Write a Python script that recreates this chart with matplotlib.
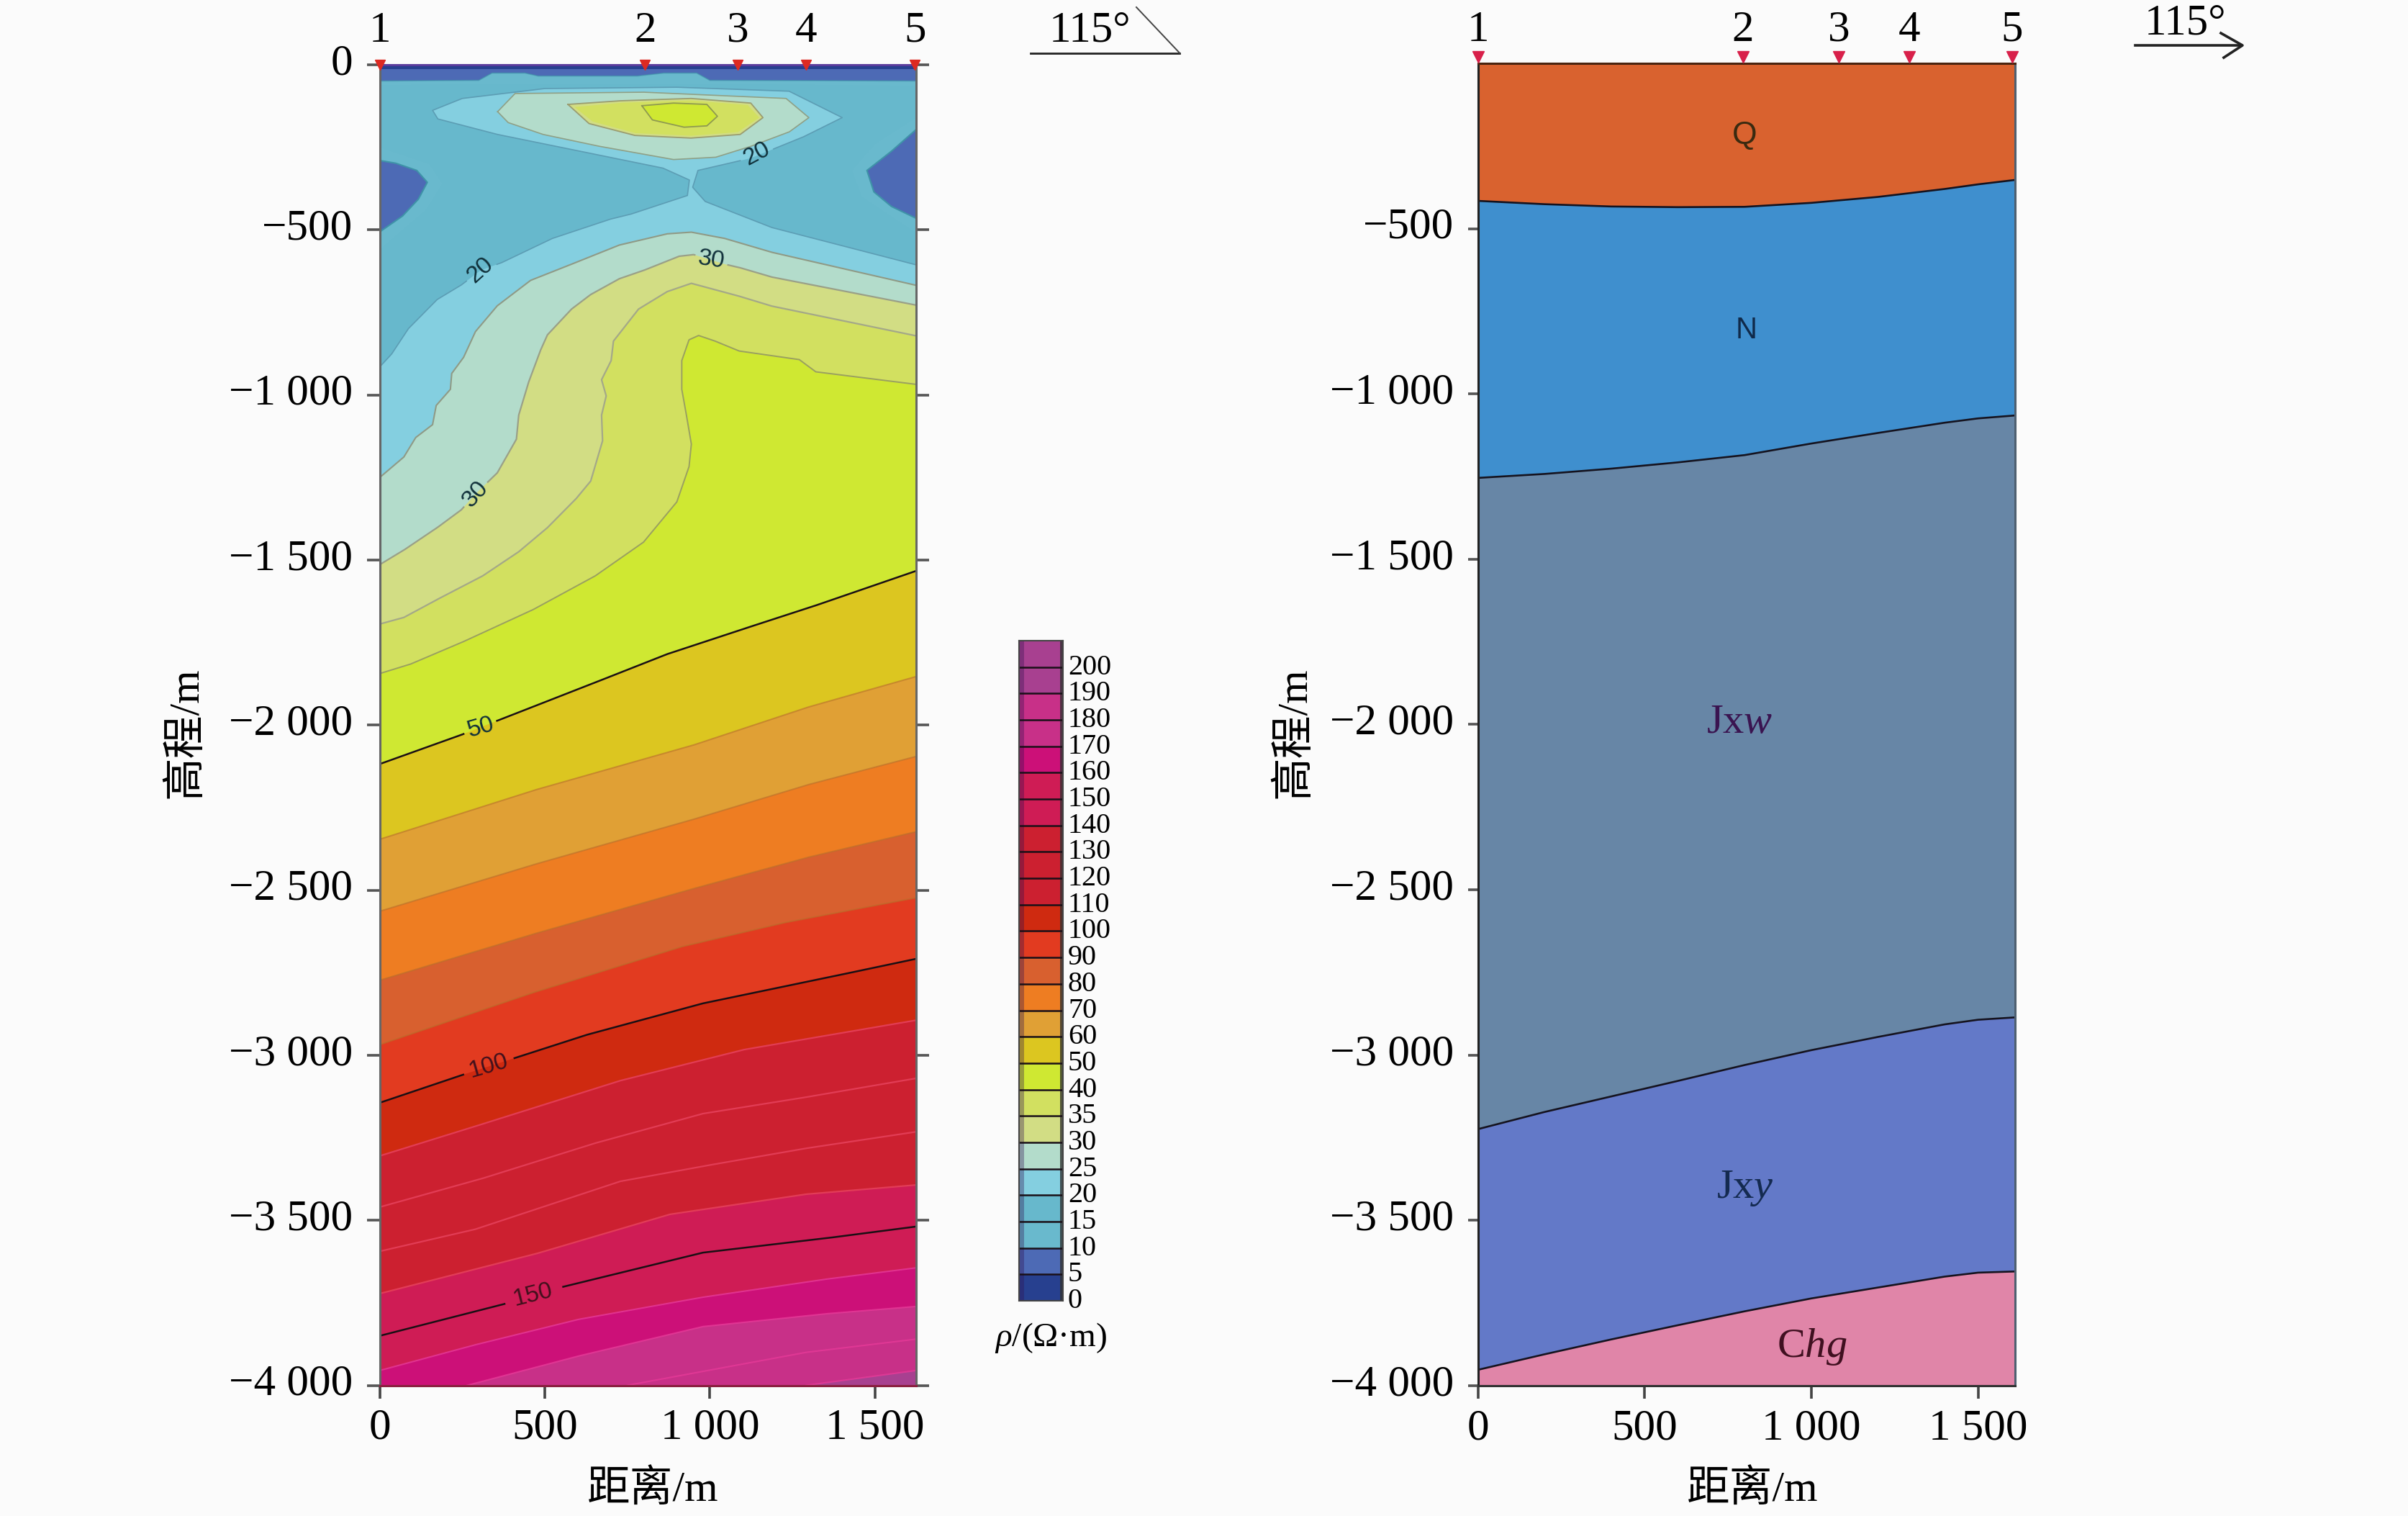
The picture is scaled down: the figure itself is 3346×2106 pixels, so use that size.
import matplotlib
matplotlib.use("Agg")
import matplotlib.pyplot as plt
import numpy as np
from matplotlib.lines import Line2D
from matplotlib.transforms import ScaledTranslation

W, H = 3346, 2106
plt.rcParams['font.family'] = ['Liberation Serif', 'Noto Sans CJK SC', 'DejaVu Sans']
plt.rcParams['mathtext.fontset'] = 'custom'
plt.rcParams['mathtext.rm'] = 'Liberation Serif'
plt.rcParams['mathtext.it'] = 'Liberation Serif:italic'
plt.rcParams['axes.unicode_minus'] = False

# ---------- data ----------
x_ticks = [0, 500, 1000, 1500]
x_tick_labels = ['0', '500', '1 000', '1 500']
y_ticks = [0, -500, -1000, -1500, -2000, -2500, -3000, -3500, -4000]
y_tick_labels = ['0', '−500', '−1 000', '−1 500', '−2 000', '−2 500', '−3 000', '−3 500', '−4 000']
stations = ['1', '2', '3', '4', '5']
station_x_left = [0, 804, 1084, 1291, 1621]
station_x_right = [0, 795, 1082, 1293, 1602]

scale_levels = [0, 5, 10, 15, 20, 25, 30, 35, 40, 50, 60, 70, 80, 90, 100, 110, 120,
                130, 140, 150, 160, 170, 180, 190, 200]
scale_colors = ['#27408f', '#4d6ab5', '#69b9cd', '#67b8cc', '#84cfe0', '#b3dccb', '#d2dd84',
                '#d2e060', '#cfe832', '#dcc620', '#e0a035', '#ee7d22', '#d8602f', '#e23b20',
                '#cf2a10', '#cc2030', '#cc2030', '#cc2030', '#cf1c55', '#cf1c55', '#cc1078',
                '#c83088', '#c83088', '#a84090', '#a84090']

# isolines of resistivity: (distance, elevation)
iso5 = ([0, 1625], [-13, -13])
iso10 = ([0, 300, 340, 440, 480, 780, 860, 960, 1000, 1625],
         [-49, -47, -25, -25, -34, -34, -25, -25, -47, -49])
iso10_pocket_l = ([0, 48, 112, 144, 117, 69, 0], [-290, -298, -320, -356, -407, -458, -506])
iso10_pocket_r = ([1625, 1550, 1476, 1497, 1550, 1625], [-196, -262, -320, -385, -429, -465])
iso15 = ([0, 400, 1000, 1625], [-62, -58, -58, -64])
iso15_pocket_l = ([0, 150, 190, 140, 0], [-250, -300, -360, -440, -560])
iso15_pocket_r = ([1625, 1500, 1430, 1460, 1625], [-160, -240, -320, -400, -510])
iso20 = ([0, 36, 87, 174, 247, 305, 370, 523, 697, 762, 932, 938, 858, 623, 357, 176, 160, 250,
          500, 900, 1240, 1401, 1284, 1124, 964, 948, 986, 1188, 1625],
         [-915, -876, -799, -711, -667, -623, -599, -526, -468, -452, -396, -349, -313, -265, -211,
          -164, -138, -102, -72, -68, -80, -160, -218, -283, -320, -371, -414, -493, -606])
iso25 = ([0, 73, 109, 160, 171, 214, 218, 254, 290, 356, 457, 581, 726, 871, 944, 1045, 1188, 1625],
         [-1250, -1188, -1129, -1090, -1032, -983, -935, -886, -808, -730, -653, -604, -546, -512,
          -507, -526, -568, -668])
iso25_lens = ([357, 389, 495, 666, 890, 1018, 1124, 1241, 1300, 1231, 800, 410],
              [-142, -175, -211, -247, -287, -280, -247, -203, -160, -102, -83, -87])
iso30 = ([0, 73, 174, 247, 290, 356, 414, 421, 450, 486, 508, 581, 639, 726, 799, 907, 951, 1045,
          1089, 1188, 1625],
         [-1514, -1470, -1402, -1348, -1300, -1236, -1134, -1061, -964, -867, -818, -740, -696, -648,
          -623, -580, -575, -604, -614, -643, -728])
iso30_lens = ([570, 634, 773, 943, 1092, 1161, 1124, 943, 730],
              [-120, -178, -214, -222, -211, -160, -116, -102, -109])
iso35 = ([0, 73, 181, 312, 421, 508, 595, 639, 675, 672, 686, 672, 701, 708, 784, 871, 944, 1089,
          1188, 1625],
         [-1694, -1674, -1616, -1548, -1475, -1402, -1314, -1261, -1139, -1061, -1003, -954, -896,
          -837, -740, -687, -662, -701, -731, -821])
iso35_lens = ([590, 645, 775, 943, 1085, 1150, 1115, 943, 735],
              [-128, -172, -207, -215, -204, -160, -122, -108, -115])
iso40 = ([0, 94, 254, 465, 653, 799, 900, 937, 944, 929, 915, 915, 937, 966, 1016, 1089, 1271, 1321, 1625],
         [-1844, -1815, -1747, -1650, -1548, -1446, -1324, -1217, -1149, -1061, -983, -896, -833,
          -820, -837, -867, -893, -930, -968])
iso40_lens = ([794, 826, 922, 991, 1023, 991, 890], [-124, -167, -189, -185, -156, -120, -116])
iso50 = ([0, 246, 363, 617, 871, 1089, 1314, 1625], [-2118, -2030, -1984, -1885, -1785, -1713, -1640, -1533])
iso60 = ([0, 476, 952, 1300, 1625], [-2346, -2195, -2060, -1945, -1853])
iso70 = ([0, 476, 952, 1300, 1625], [-2564, -2420, -2285, -2180, -2095])
iso80 = ([0, 476, 952, 1300, 1625], [-2773, -2630, -2495, -2400, -2323])
iso90 = ([0, 466, 916, 1229, 1625], [-2968, -2810, -2671, -2598, -2523])
iso100 = ([0, 240, 628, 979, 1355, 1625], [-3144, -3063, -2938, -2843, -2765, -2708])
iso110 = ([0, 303, 729, 1104, 1625], [-3305, -3211, -3077, -2983, -2894])
iso120 = ([0, 315, 654, 979, 1292, 1625], [-3460, -3372, -3266, -3177, -3127, -3070])
iso130 = ([0, 290, 729, 1004, 1292, 1625], [-3594, -3527, -3382, -3332, -3282, -3232])
iso140 = ([0, 478, 879, 1292, 1625], [-3722, -3600, -3482, -3421, -3393])
iso150 = ([0, 391, 541, 979, 1355, 1625], [-3850, -3750, -3705, -3598, -3554, -3519])
iso160 = ([0, 290, 603, 979, 1355, 1625], [-3955, -3877, -3800, -3733, -3678, -3644])
iso170 = ([265, 603, 979, 1355, 1625], [-4000, -3911, -3822, -3783, -3761])
iso180 = ([750, 1292, 1625], [-4000, -3900, -3860])
iso190 = ([1292, 1625], [-4000, -3955])

contour_labels = ['20', '20', '30', '30', '50', '100', '150']
contour_label_x = [1142, 305, 1005, 290, 306, 330, 464]
contour_label_d = [-270, -623, -592, -1300, -2007, -3034, -3726]
contour_label_angle = [28, 42, -8, 48, 16, 16, 14]

# geological boundaries on the right section
bound_x = [0, 200, 400, 600, 800, 1000, 1200, 1400, 1500, 1625]
bound_q_n = [-416, -426, -433, -435, -434, -422, -404, -380, -366, -351]
bound_n_jxw = [-1254, -1242, -1226, -1207, -1185, -1150, -1118, -1087, -1074, -1064]
bound_jxw_jxy = [-3224, -3172, -3125, -3078, -3030, -2985, -2945, -2907, -2893, -2885]
bound_jxy_chg = [-3952, -3905, -3860, -3817, -3775, -3736, -3703, -3670, -3658, -3654]
unit_names = ['Q', 'N', 'Jx$\\mathit{w}$', 'Jx$\\mathit{y}$', 'C$\\mathit{hg}$']
unit_colors = ['#d9622f', '#3f8fce', '#6786a6', '#6379c8', '#e085a8']
unit_x = [800, 805, 785, 802, 1003]
unit_d = [-218, -808, -1994, -3404, -3882]


# ---------- helpers for layout (pixels of the reference) ----------
def axes_px(x0, x1, y0, y1):
    return fig.add_axes([x0 / W, 1 - y1 / H, (x1 - x0) / W, (y1 - y0) / H])


def ftext(px, py, s, **kw):
    fig.text(px / W, 1 - py / H, s, ha='center', va='center', **kw)


fig = plt.figure(figsize=(W / 100, H / 100), dpi=100, facecolor='#fbfbfb')
LABEL = 44


def style_axes(ax, xmax, ylen, spine_cols):
    ax.set_xlim(0, xmax)
    ax.set_ylim(-4000, 0)
    ax.set_facecolor('none')
    ax.set_xticks(x_ticks, x_tick_labels)
    ax.tick_params(axis='x', length=13, width=2.6, color='#444444', labelsize=LABEL, pad=10)
    ax.tick_params(axis='y', length=ylen, width=2.6, color='#555555', labelsize=LABEL, pad=14)
    for side, col in spine_cols.items():
        ax.spines[side].set_color(col)
        ax.spines[side].set_linewidth(2.2)


def colour_of(level):
    return scale_colors[scale_levels.index(level)]


# ---------- left: resistivity section ----------
ax = axes_px(527.7, 1273, 90, 1924.5)
XMAX = 1625
ax.fill_between([0, XMAX], -4000, 0, color=colour_of(0), lw=0)


def paint_below(level, iso):
    xs, ds = iso
    ax.fill(list(xs) + [xs[-1], xs[0]], list(ds) + [-4000, -4000], color=colour_of(level), lw=0)


def paint_closed(level, iso):
    ax.fill(iso[0], iso[1], color=colour_of(level), lw=0)


def draw_line(iso, col, lw=1.6, alpha=1.0, closed=False, gaps=()):
    xs, ds = np.array(iso[0], float), np.array(iso[1], float)
    if closed:
        xs = np.append(xs, xs[0])
        ds = np.append(ds, ds[0])
    if gaps:
        # leave the line open under its inline labels
        t = np.arange(len(xs))
        tt = np.linspace(0, len(xs) - 1, (len(xs) - 1) * 30 + 1)
        xs, ds = np.interp(tt, t, xs), np.interp(tt, t, ds)
        for gx, gd, r in gaps:
            hit = np.hypot(xs - gx, ds - gd) < r
            xs, ds = np.where(hit, np.nan, xs), np.where(hit, np.nan, ds)
    ax.plot(xs, ds, color=col, lw=lw, alpha=alpha, solid_joinstyle='round')


def gap(i):
    r = 80 if len(contour_labels[i]) == 3 else 52
    return (contour_label_x[i], contour_label_d[i], r)


paint_below(5, iso5)
paint_below(10, iso10)
paint_below(15, iso15)
paint_closed(10, iso15_pocket_l)
paint_closed(10, iso15_pocket_r)
paint_closed(5, iso10_pocket_l)
paint_closed(5, iso10_pocket_r)
paint_below(20, iso20)
paint_below(25, iso25)
paint_closed(25, iso25_lens)
paint_below(30, iso30)
paint_closed(30, iso30_lens)
paint_below(35, iso35)
paint_closed(35, iso35_lens)
paint_below(40, iso40)
paint_closed(40, iso40_lens)
for lev, iso in [(50, iso50), (60, iso60), (70, iso70), (80, iso80), (90, iso90), (100, iso100),
                 (110, iso110), (120, iso120), (130, iso130), (140, iso140), (150, iso150),
                 (160, iso160), (170, iso170), (180, iso180), (190, iso190)]:
    paint_below(lev, iso)

draw_line(iso10_pocket_l, '#3f93a8', 1.5)
draw_line(iso10_pocket_r, '#3f93a8', 1.5)
draw_line(iso10, '#3f93a8', 1.2, 0.6)
draw_line(iso20, '#5c9db4', 1.2, gaps=(gap(0), gap(1)))
draw_line(iso25, '#8f9a86', 1.5)
draw_line(iso30, '#9aa088', 1.6, gaps=(gap(2), gap(3)))
draw_line(iso35, '#a4a888', 1.6)
draw_line(iso40, '#9aa060', 1.4)
draw_line(iso25_lens, '#8fa086', 1.2, closed=True)
draw_line(iso30_lens, '#9a9c70', 1.3, closed=True)
draw_line(iso40_lens, '#8f9a50', 1.3, closed=True)
for iso in (iso60, iso70, iso80, iso90):
    draw_line(iso, '#b8702c', 1.5, 0.6)
for iso in (iso110, iso120, iso130, iso140):
    draw_line(iso, '#e5405a', 1.6, 0.9)
for iso in (iso160, iso170, iso180, iso190):
    draw_line(iso, '#e63a98', 1.5, 0.8)
draw_line(iso50, '#1a0f14', 1.8, gaps=(gap(4),))
draw_line(iso100, '#1a0f14', 1.8, gaps=(gap(5),))
draw_line(iso150, '#1a0f14', 1.8, gaps=(gap(6),))

for s, x, d, a in zip(contour_labels, contour_label_x, contour_label_d, contour_label_angle):
    ax.text(x, d, s, rotation=a, ha='center', va='center', fontsize=24, family='Liberation Sans',
            color='#10303a' if float(s) < 60 else '#40101c', rotation_mode='anchor')

style_axes(ax, XMAX, 13, {'left': '#666666', 'right': '#666666', 'bottom': '#8a2040', 'top': '#5a3c9c'})
ax.set_yticks(y_ticks, y_tick_labels)
ax.tick_params(axis='y', right=True)
ax.plot(station_x_left, [0] * 5, 'v', color='#dd2a22', ms=10, clip_on=False, zorder=6)
for s, x in zip(stations, station_x_left):
    ax.annotate(s, (x, 0), xytext=(0, 34), textcoords='offset points', ha='center', va='center',
                fontsize=LABEL, annotation_clip=False)

# ---------- right: geological section ----------
bx = axes_px(2053.5, 2799.5, 88, 1925)
edges = [[0] * len(bound_x), bound_q_n, bound_n_jxw, bound_jxw_jxy, bound_jxy_chg, [-4000] * len(bound_x)]
for i, col in enumerate(unit_colors):
    bx.fill_between(bound_x, edges[i + 1], edges[i], color=col, lw=0)
for b in edges[1:5]:
    bx.plot(bound_x, b, color='#15131f', lw=1.9)
unit_fonts = [dict(family='Liberation Sans', fontsize=32, color='#3a2a10'),
              dict(family='Liberation Sans', fontsize=30, color='#102a4a'),
              dict(fontsize=42, color='#3a1450'),
              dict(fontsize=42, color='#142a50'),
              dict(fontsize=42, color='#401020')]
for s, x, d, kw in zip(unit_names, unit_x, unit_d, unit_fonts):
    bx.text(x, d, s, ha='center', va='center', **kw)
style_axes(bx, 1610, 10, {'left': '#222222', 'right': '#4f6070', 'bottom': '#333333', 'top': '#4a2410'})
bx.set_yticks(y_ticks[1:], y_tick_labels[1:])
bx.plot(station_x_right, [20] * 5, 'v', color='#d8204a', ms=12, clip_on=False, zorder=6)
for s, x in zip(stations, station_x_right):
    bx.annotate(s, (x, 0), xytext=(0, 33), textcoords='offset points', ha='center', va='center',
                fontsize=LABEL, annotation_clip=False)

# raise the y tick labels a little, as in the reference
lift = ScaledTranslation(0, 8 / 100, fig.dpi_scale_trans)
for a in (ax, bx):
    for lab in a.get_yticklabels():
        lab.set_transform(lab.get_transform() + lift)

# ---------- colour scale ----------
cx = axes_px(1416, 1477, 890, 1807)
positions = list(range(len(scale_levels) + 1))
cx.pcolormesh([0, 1], positions, [[i] for i in range(len(scale_levels))],
              cmap=matplotlib.colors.ListedColormap(scale_colors), shading='flat')
cx.axvspan(0, 0.12, color='#301050', alpha=0.35, lw=0)
cx.axvspan(0.93, 1, color='#333333', alpha=0.8, lw=0)
cx.hlines(positions[1:-1], 0, 1, color='#1a1018', lw=1.8)
cx.set_xlim(0, 1)
cx.set_ylim(0, len(scale_levels))
cx.set_xticks([])
cx.yaxis.tick_right()
cx.set_yticks(positions[:-1], [str(v) for v in scale_levels])
cx.tick_params(axis='y', length=0, labelsize=29, pad=5)
lift2 = ScaledTranslation(0, 4 / 100, fig.dpi_scale_trans)
for lab in cx.get_yticklabels():
    lab.set_transform(lab.get_transform() + lift2)
    lab.set_ha('left')
for sp in cx.spines.values():
    sp.set_color('#444444')
    sp.set_linewidth(1.5)

# ---------- free text and direction marks ----------
ftext(907, 2070, '距离/m', fontsize=43)
ftext(2435, 2070, '距离/m', fontsize=43)
ftext(259, 1018, '高程/m', fontsize=43, rotation=90)
ftext(1799, 1018, '高程/m', fontsize=43, rotation=90)
ftext(1460, 1858, '$\\mathit{\\rho}$/(Ω·m)', fontsize=34)
ftext(1514, 43, '115°', fontsize=44)
ftext(3036, 33, '115°', fontsize=44)
fig.add_artist(Line2D([1432 / W, 1639 / W], [1 - 73.5 / H] * 2, color='#222222', lw=2))
fig.add_artist(Line2D([1579 / W, 1639 / W], [1 - 10 / H, 1 - 73.5 / H], color='#444444', lw=1.4))
fig.add_artist(Line2D([2967 / W, 3114 / W], [1 - 63 / H] * 2, color='#222222', lw=2.6))
fig.add_artist(Line2D([3086 / W, 3116 / W, 3090 / W], [1 - 46 / H, 1 - 63 / H, 1 - 80 / H], color='#222222', lw=2.6))

fig.savefig('out.png', dpi=100, facecolor=fig.get_facecolor())
